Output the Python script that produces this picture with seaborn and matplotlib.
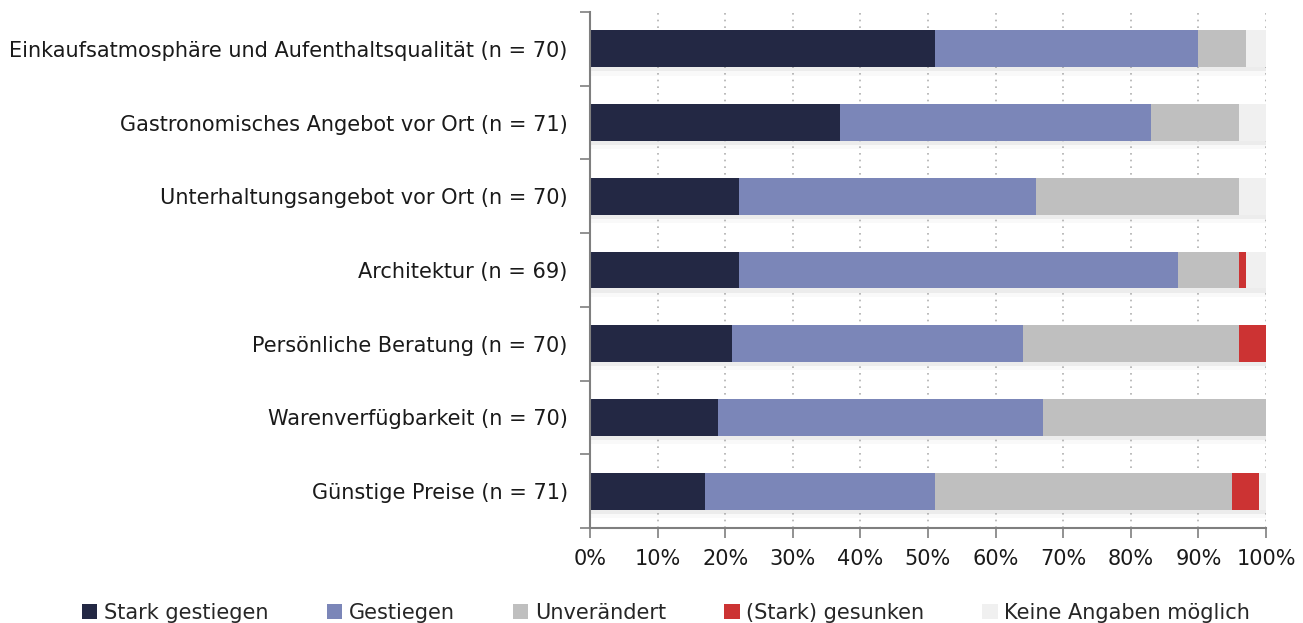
import matplotlib

matplotlib.use("Agg")

import matplotlib.patheffects as pe
import matplotlib.pyplot as plt
import numpy as np
import pandas as pd
import seaborn as sns
from matplotlib.patches import Patch
from matplotlib.ticker import FixedLocator, PercentFormatter

sns.set_theme(style="white")
plt.rcParams["font.family"] = ["DejaVu Sans"]

categories = [
    "Einkaufsatmosphäre und Aufenthaltsqualität (n = 70)",
    "Gastronomisches Angebot vor Ort (n = 71)",
    "Unterhaltungsangebot vor Ort (n = 70)",
    "Architektur (n = 69)",
    "Persönliche Beratung (n = 70)",
    "Warenverfügbarkeit (n = 70)",
    "Günstige Preise (n = 71)",
]
stark_gestiegen = [51, 37, 22, 22, 21, 19, 17]
gestiegen = [39, 46, 44, 65, 43, 48, 34]
unveraendert = [7, 13, 30, 9, 32, 33, 44]
gesunken = [0, 0, 0, 1, 4, 0, 4]
keine_angaben = [3, 4, 4, 3, 0, 0, 1]

series = ["Stark gestiegen", "Gestiegen", "Unverändert", "(Stark) gesunken", "Keine Angaben möglich"]
colors = ["#232844", "#7b86b8", "#bfbfbf", "#cc3333", "#f0f0f0"]

df = pd.DataFrame(
    {
        "Kategorie": categories,
        series[0]: stark_gestiegen,
        series[1]: gestiegen,
        series[2]: unveraendert,
        series[3]: gesunken,
        series[4]: keine_angaben,
    }
)
cum = df[series].cumsum(axis=1)

fig = plt.figure(figsize=(13.03, 6.23), dpi=100)
ax = fig.add_axes([590 / 1303, 1 - 528 / 623, 676 / 1303, 516 / 623])

# stacked bars: draw cumulative totals from the outermost layer inward
for i, (name, color) in enumerate(reversed(list(zip(series, colors)))):
    n_before = len(ax.patches)
    sns.barplot(
        x=cum[name], y=df["Kategorie"], color=color, orient="h",
        width=0.5, saturation=1, linewidth=0, ax=ax,
    )
    if i == 0:
        for p in ax.patches[n_before:]:
            p.set_path_effects([
                pe.SimplePatchShadow(offset=(0, -3), shadow_rgbFace="#999999", alpha=0.12),
                pe.SimplePatchShadow(offset=(0, -6), shadow_rgbFace="#999999", alpha=0.06),
                pe.Normal(),
            ])

ax.set_xlim(0, 100)
ax.set_ylim(len(categories) - 0.5, -0.5)
ax.set_xlabel("")
ax.set_ylabel("")
ax.xaxis.set_major_locator(FixedLocator(np.arange(0, 101, 10)))
ax.xaxis.set_major_formatter(PercentFormatter(decimals=0))
ax.grid(axis="x", color="#b0b0b0", linestyle=(0, (1, 3)), linewidth=1.2)
ax.set_axisbelow(True)

for side in ["top", "right"]:
    ax.spines[side].set_visible(False)
for side in ["left", "bottom"]:
    ax.spines[side].set_color("#7f7f7f")
    ax.spines[side].set_linewidth(1.5)

ax.tick_params(axis="x", bottom=True, length=7, width=1.2, color="#7f7f7f",
               labelsize=15, labelcolor="#1a1a1a", pad=8)
ax.tick_params(axis="y", which="major", left=False, labelsize=15, labelcolor="#1a1a1a", pad=10)
ax.yaxis.set_minor_locator(FixedLocator(np.arange(-0.5, len(categories), 1)))
ax.tick_params(axis="y", which="minor", left=True, length=7, width=1.2, color="#7f7f7f")

handles = [Patch(facecolor=c, edgecolor="none") for c in colors]
fig.legend(
    handles, series, loc="center", bbox_to_anchor=(666 / 1303, 1 - 613 / 623),
    ncol=5, frameon=False, fontsize=15, handlelength=0.75, handleheight=0.75,
    handletextpad=0.3, columnspacing=2.8,
)

fig.savefig("out.png", dpi=100)
